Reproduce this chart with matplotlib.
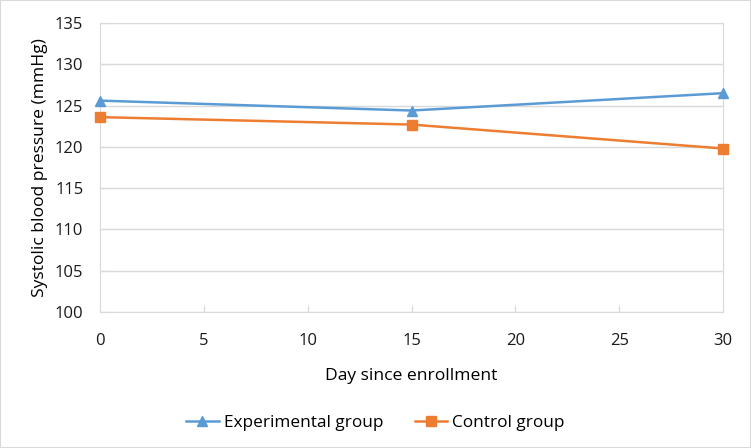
import matplotlib.pyplot as plt
from matplotlib.patches import Rectangle

days = [0, 15, 30]
experimental = [125.6, 124.4, 126.5]
control = [123.6, 122.7, 119.8]

plt.rcParams['font.family'] = ['Open Sans', 'DejaVu Sans']

fig = plt.figure(figsize=(7.51, 4.48), dpi=100)
ax = fig.add_axes([100 / 751, 1 - 312 / 448, 623 / 751, 289 / 448])

ax.plot(days, experimental, color='#5B9BD5', lw=1.8, marker='^', ms=7,
        label='Experimental group', clip_on=False, zorder=3)
ax.plot(days, control, color='#ED7D31', lw=1.8, marker='s', ms=6.5,
        label='Control group', clip_on=False, zorder=3)

ax.set_xlim(0, 30)
ax.set_ylim(100, 135)
ax.set_xticks(range(0, 31, 5))
ax.set_yticks(range(100, 136, 5))
ax.yaxis.grid(True, color='#d9d9d9', lw=1)
ax.set_axisbelow(True)
for s in ax.spines.values():
    s.set_color('#d9d9d9')
ax.tick_params(direction='in', length=5, color='#d9d9d9', labelsize=12,
               labelcolor='#1a1a1a')
ax.tick_params(axis='y', pad=12)
ax.tick_params(axis='x', pad=15)

ax.set_xlabel('Day since enrollment', fontsize=12.6, labelpad=14)
ax.set_ylabel('Systolic blood pressure (mmHg)', fontsize=12.6, labelpad=5)

fig.legend(loc='center', bbox_to_anchor=(0.5, 1 - 423 / 448), ncol=2,
           frameon=False, fontsize=12.4, handlelength=1.9, handletextpad=0.3,
           columnspacing=1.8)

fig.patches.append(Rectangle((0, 0), 1, 1, transform=fig.transFigure,
                             fill=False, edgecolor='#d9d9d9', lw=1.5))

fig.savefig('out.png', dpi=100)
